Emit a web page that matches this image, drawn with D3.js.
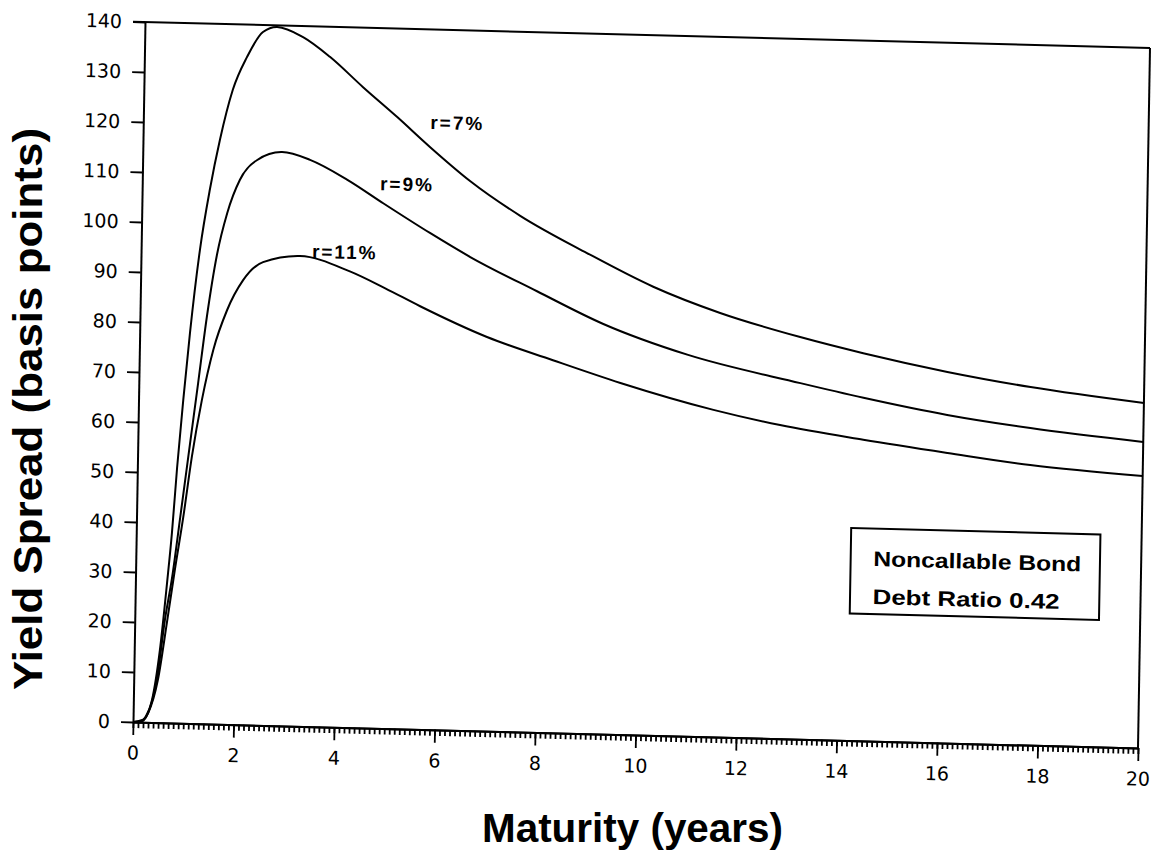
<!DOCTYPE html>
<html>
<head>
<meta charset="utf-8">
<script src="https://cdn.jsdelivr.net/npm/d3@7"></script>
<style>
  body { margin: 0; background: #fff; }
  text { font-family: "Liberation Sans", Arial, sans-serif; fill: #000; }
</style>
</head>
<body>
<script>
//Data (maturity in years, spread in basis points)
var maturity7 = [0, 0.2, 0.37, 0.51, 0.63, 0.71, 0.79, 0.89, 1.0, 1.17, 1.35, 1.53, 1.77, 2.04, 2.35, 2.63, 3.15, 3.69, 4.36, 5.05, 5.71, 6.52, 7.53, 8.87, 10.2, 11.54, 13.14, 14.4, 16.08, 17.74, 20];
var spread7 = [0, 0.5, 4.5, 14.5, 28, 38, 51, 64.6, 78, 94.7, 107, 116.8, 126.9, 133.5, 138.6, 139.7, 137.8, 134, 128.1, 122.3, 116.5, 109.9, 103.2, 96.1, 89.7, 84.8, 80.4, 77.5, 74.2, 71.6, 69.0];

var maturity9 = [0, 0.16, 0.26, 0.46, 0.6, 0.73, 0.87, 1.04, 1.18, 1.33, 1.51, 1.7, 1.94, 2.28, 2.77, 3.33, 4.08, 4.8, 5.74, 6.55, 7.89, 9.22, 10.9, 13.16, 14.42, 16.09, 17.75, 20];
var spread9 = [0, 0.2, 1.3, 8.5, 20.6, 29.2, 41.2, 56, 68.1, 81.3, 93.8, 102.2, 108.9, 113, 114.7, 113.3, 109.5, 105.0, 99.3, 94.7, 88.2, 82.0, 76.3, 71.2, 68.6, 65.6, 63.4, 61.2];

var maturity11 = [0, 0.14, 0.3, 0.48, 0.64, 0.78, 0.93, 1.08, 1.26, 1.47, 1.73, 2.04, 2.43, 3.16, 4.16, 4.87, 5.57, 6.91, 8.23, 9.58, 11.44, 12.77, 14.43, 16.11, 17.76, 20];
var spread11 = [0, 0, 1.9, 8.5, 20.0, 30.6, 41.2, 53.3, 64.7, 74.8, 82.8, 88.9, 92.6, 94.0, 91.2, 88.0, 84.6, 78.8, 74.5, 70.3, 65.4, 62.7, 60.2, 58.0, 56.0, 54.4];

var seriesLabels = ['r=7%', 'r=9%', 'r=11%'];
var labelAt = [[5.71, 120.1], [4.73, 107.6], [3.40, 93.7]];

var xTicks = [0, 2, 4, 6, 8, 10, 12, 14, 16, 18, 20];
var yTicks = [0, 10, 20, 30, 40, 50, 60, 70, 80, 90, 100, 110, 120, 130, 140];

var boxLines = ['Noncallable Bond', 'Debt Ratio 0.42'];

//Size Globals:
var svgWidth = 1156;
var svgHeight = 859;
var plotW = 1005;
var plotH = 700;
var tickFont = '"DejaVu Sans", Verdana, sans-serif';

var svg = d3.select('body').append('svg')
    .attr('id', 'mainsvg')
    .attr('width', svgWidth)
    .attr('height', svgHeight);

//the scan is a bit skewed, so the whole plot sits in a sheared group
var plot = svg.append('g')
    .attr('transform', 'matrix(1,0.02587,-0.01714,1,145,22)');

var x = d3.scaleLinear().domain([0, 20]).range([0, plotW]);
var y = d3.scaleLinear().domain([0, 140]).range([plotH, 0]);

//Axes:
var yAxis = plot.append('g')
    .call(d3.axisLeft(y).tickValues(yTicks).tickSize(12).tickSizeOuter(0).tickPadding(11));

var xMinor = plot.append('g')
    .attr('transform', 'translate(0,' + plotH + ')')
    .call(d3.axisBottom(x).tickValues(d3.range(0, 201).map(function(i){ return i / 10; }))
          .tickSize(6).tickSizeOuter(0).tickFormat(''));

var xAxis = plot.append('g')
    .attr('transform', 'translate(0,' + plotH + ')')
    .call(d3.axisBottom(x).tickValues(xTicks).tickSize(13).tickSizeOuter(0).tickPadding(11));

[yAxis, xAxis, xMinor].forEach(function(a){
    a.attr('font-size', 19).attr('font-family', tickFont);
    a.selectAll('path.domain').attr('stroke', '#000').attr('stroke-width', 2);
    a.selectAll('line').attr('stroke', '#000').attr('stroke-width', 1.8);
    a.selectAll('.tick text')
        .style('font-size', '19px', 'important')
        .style('font-family', tickFont, 'important');
});

//top and right border
plot.append('line')
    .attr('x1', -12).attr('y1', y(140)).attr('x2', x(20)).attr('y2', y(140))
    .attr('stroke', '#000').attr('stroke-width', 2);
plot.append('line')
    .attr('x1', x(20)).attr('y1', y(140)).attr('x2', x(20)).attr('y2', y(0))
    .attr('stroke', '#000').attr('stroke-width', 2);

//Curves:
var line = d3.line()
    .x(function(d){ return x(d[0]); })
    .y(function(d){ return y(d[1]); })
    .curve(d3.curveMonotoneX);

var series = [
    d3.zip(maturity7, spread7),
    d3.zip(maturity9, spread9),
    d3.zip(maturity11, spread11)
];

plot.selectAll('path.curve')
    .data(series)
    .enter().append('path')
    .attr('class', 'curve')
    .attr('d', line)
    .attr('fill', 'none')
    .attr('stroke', '#000')
    .attr('stroke-width', 2);

plot.selectAll('text.rlabel')
    .data(seriesLabels)
    .enter().append('text')
    .attr('class', 'rlabel')
    .attr('x', function(d, i){ return x(labelAt[i][0]); })
    .attr('y', function(d, i){ return y(labelAt[i][1]); })
    .style('font-size', '19px')
    .style('font-weight', 'bold')
    .style('letter-spacing', '2px')
    .text(function(d){ return d; });

//Info box
var box = plot.append('g');
box.append('rect')
    .attr('x', x(14.22)).attr('y', y(42.5))
    .attr('width', x(19.18) - x(14.22))
    .attr('height', y(25.4) - y(42.5))
    .attr('fill', '#fff')
    .attr('stroke', '#000')
    .attr('stroke-width', 2);
box.selectAll('text')
    .data(boxLines)
    .enter().append('text')
    .attr('x', x(14.67))
    .attr('y', function(d, i){ return y(i === 0 ? 35.0 : 27.4); })
    .attr('textLength', function(d, i){ return i === 0 ? 208 : 187; })
    .attr('lengthAdjust', 'spacingAndGlyphs')
    .style('font-size', '21px')
    .style('font-weight', 'bold')
    .text(function(d){ return d; });

//Axis titles
svg.append('text')
    .attr('x', 482).attr('y', 842)
    .attr('textLength', 301)
    .attr('lengthAdjust', 'spacingAndGlyphs')
    .style('font-size', '40px')
    .style('font-weight', 'bold')
    .text('Maturity (years)');

svg.append('text')
    .attr('transform', 'translate(42,690) rotate(-90)')
    .attr('textLength', 562)
    .attr('lengthAdjust', 'spacingAndGlyphs')
    .style('font-size', '40px')
    .style('font-weight', 'bold')
    .text('Yield Spread (basis points)');
</script>
</body>
</html>
